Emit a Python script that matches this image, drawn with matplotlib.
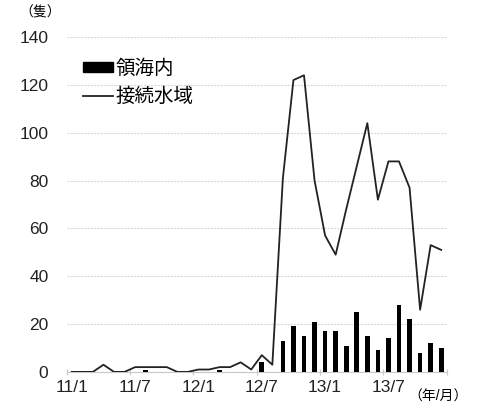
import matplotlib
matplotlib.use("Agg")
import matplotlib.pyplot as plt
from matplotlib.patches import Patch
from matplotlib.lines import Line2D

plt.rcParams['font.family'] = ['Liberation Sans', 'Noto Sans CJK JP']

# months 11/1 .. 13/12
months = ["%d/%d" % (y, m) for y in (11, 12, 13) for m in range(1, 13)]
territorial = [0, 0, 0, 0, 0, 0, 0, 1, 0, 0, 0, 0,
               0, 0, 1, 0, 0, 0, 4, 0, 13, 19, 15, 21,
               17, 17, 11, 25, 15, 9, 14, 28, 22, 8, 12, 10]
contiguous = [0, 0, 0, 3, 0, 0, 2, 2, 2, 2, 0, 0,
              1, 1, 2, 2, 4, 1, 7, 3, 81, 122, 124, 80,
              57, 49, 68, 86, 104, 72, 88, 88, 77, 26, 53, 51]
label_months = ["11/1", "11/7", "12/1", "12/7", "13/1", "13/7"]

x = list(range(len(months)))

fig = plt.figure(figsize=(5.0, 4.16), dpi=100)
ax = fig.add_axes([0.133, 0.106, 0.76, 0.805])

ax.bar(x, territorial, width=0.45, color='black', zorder=3)
ax.plot(x, contiguous, color='#222222', lw=1.3, zorder=4)

ax.set_xlim(-0.5, len(months) - 0.5)
ax.set_ylim(0, 140)
ax.set_yticks(range(0, 141, 20))
ax.yaxis.grid(True, color='#d8d8d8', lw=0.8, ls=(0, (2, 1)))
ax.set_axisbelow(True)

for s in ('top', 'right', 'left'):
    ax.spines[s].set_visible(False)
ax.spines['bottom'].set_color('#c8c8c8')
ax.tick_params(axis='y', length=0, labelsize=12.5, pad=13, colors='#222222')

# tick marks on category boundaries, labels on month centres
ax.set_xticks([i - 0.5 for i in range(0, len(months) + 1, 6)])
ax.set_xticklabels([])
ax.tick_params(axis='x', which='major', length=5, color='#c8c8c8', direction='inout')
ax.set_xticks([months.index(m) for m in label_months], minor=True)
ax.set_xticklabels(label_months, minor=True)
ax.tick_params(axis='x', which='minor', length=0, labelsize=12.5, pad=6, colors='#222222')

fig.text(0.08, 0.969, "（隻）", fontsize=10, ha='center', va='center')
fig.text(0.877, 0.047, "（年/月）", fontsize=10, ha='center', va='center')

handles = [Patch(facecolor='black', edgecolor='black'),
           Line2D([0], [0], color='#222222', lw=1.3)]
ax.legend(handles, ["領海内", "接続水域"], loc='upper left',
          bbox_to_anchor=(0.043, 0.934), frameon=False, fontsize=14,
          handlelength=1.55, handleheight=0.41, handletextpad=0.15,
          labelspacing=0.5, borderaxespad=0, borderpad=0)

fig.savefig("out.png", dpi=100)
